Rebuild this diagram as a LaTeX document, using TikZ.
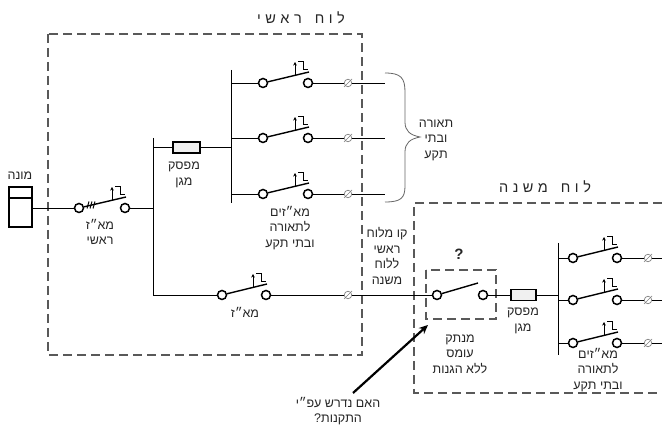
\documentclass[tikz,border=0pt]{standalone}
\usepackage{fontspec}
\setmainfont{Liberation Sans}
\TeXXeTstate=1
\usetikzlibrary{arrows.meta}
\newcommand\heb[1]{\beginR #1\endR}
\tikzset{
  wire/.style={line width=0.9pt, black},
  lever/.style={line width=1.4pt, black},
  act/.style={line width=1pt, black},
  ring/.style={circle, draw, line width=1.5pt, fill=white, minimum size=9pt, inner sep=0pt},
  tsym/.style={circle, draw=black!50, line width=0.7pt, fill=white, minimum size=7.5pt, inner sep=0pt},
  slash/.style={draw=black!50, line width=0.7pt},
  fuse/.style={rectangle, draw, line width=1.4pt, fill=black!6, inner sep=0pt},
  meter/.style={rectangle, draw, line width=1.4pt, minimum width=23pt, minimum height=40pt, inner sep=0pt},
  panel/.style={draw=black!65, line width=1.1pt, dash pattern=on 9pt off 5pt},
  lbl/.style={text=black!85, align=center, inner sep=0pt, font=\fontsize{12.5}{15.5}\selectfont},
  ttl/.style={text=black!85, inner sep=0pt, font=\fontsize{14.5}{16}\selectfont},
}
% circuit breaker symbol: name, x left, x right, y
\newcommand\cbsym[4]{%
  \node[ring] (#1a) at (#2,#4) {};
  \node[ring] (#1b) at (#3,#4) {};
  \draw[lever] (#1a) -- (#3+1,#4-11);
  \draw[act, -{Stealth[length=3.5pt,width=3.5pt]}] (#3-13,#4-8) -- (#3-13,#4-21);
  \draw[act] (#3-10,#4-21) -- (#3-5,#4-21) -- (#3-5,#4-13) -- (#3,#4-13);
}
\newcommand\termsym[3]{%
  \node[tsym] (#1) at (#2,#3) {};
  \draw[slash] ([shift={(-4,4)}]#1.center) -- ([shift={(4,-4)}]#1.center);
}
\begin{document}
\begin{tikzpicture}[x=1pt,y=-1pt]
\useasboundingbox (0,0) rectangle (662,427);
\fill[white] (0,0) rectangle (662,427);

% panels
\draw[panel] (48,34) rectangle (362,355);
\draw[panel] (662,203) -- (414,203) -- (414,393) -- (662,393);
\node[ttl] (t1) at (301,18) {\heb{ל\hspace{4.5pt}ו\hspace{4.5pt}ח\hspace{13pt}ר\hspace{4.5pt}א\hspace{4.5pt}ש\hspace{4.5pt}י}};
\node[ttl] (t2) at (545,187) {\heb{ל\hspace{4.5pt}ו\hspace{4.5pt}ח\hspace{13pt}מ\hspace{4.5pt}ש\hspace{4.5pt}נ\hspace{4.5pt}ה}};

% meter
\node[meter] (m) at (20.5,207) {};
\draw[line width=1.4pt] (m.west |- 0,198) -- (m.east |- 0,198);
\node[lbl] (mlab) at (20,176) {\heb{מונה}};

% main breaker
\cbsym{M}{79}{125}{208}
\foreach \xx in {88,91,94} \draw[act] (\xx-1,208.5) -- (\xx+1,201.5);
\draw[wire] (m.east |- Ma) -- (Ma);
\node[lbl] (lM) at (100,232) {\heb{מא״ז}\\\heb{ראשי}};

% busbar 1
\coordinate (b1t) at (153,138);
\coordinate (b1b) at (153,295);
\draw[wire] (b1t) -- (b1b);
\draw[wire] (Mb) -- (Mb -| b1t);

% protective switch 1
\node[fuse, minimum width=27pt, minimum height=11pt] (F1) at (186.5,147.5) {};
\node[lbl] (lF1) at (184,175) {\heb{מפסק}\\\heb{מגן}};
\coordinate (b2t) at (231,70);
\coordinate (b2b) at (231,203);
\draw[wire] (b2t) -- (b2b);
\draw[wire] (F1 -| b1t) -- (F1.west);
\draw[wire] (F1.east) -- (F1 -| b2t);

% branches main panel
\foreach \k/\yy in {1/83,2/138,3/194}{
  \cbsym{S\k}{263}{308}{\yy}
  \termsym{T\k}{348}{\yy}
  \coordinate (E\k) at (385,\yy);
  \draw[wire] (S\k a -| b2t) -- (S\k a);
  \draw[wire] (S\k b) -- (T\k);
  \draw[wire] (T\k) -- (E\k);
}
\node[lbl] (lS) at (290,228) {\heb{מא״זים}\\\heb{לתאורה}\\\heb{ובתי תקע}};

% brace
\draw[black!60, line width=0.8pt] (385,73) .. controls (401,73) and (405,78) .. (405,92) -- (405,122) .. controls (405,131) and (410,135) .. (420,137) .. controls (410,139) and (405,143) .. (405,152) -- (405,186) .. controls (405,198) and (401,202) .. (385,202);
\node[lbl] (lBr) at (436,140) {\heb{תאורה}\\\heb{ובתי}\\\heb{תקע}};

% bottom branch to sub panel
\cbsym{B}{222}{266}{295}
\termsym{TB}{348}{295}
\node[lbl] (lB) at (245,312) {\heb{מא״ז}};
\draw[wire] (b1b) -- (Ba);
\draw[wire] (Bb) -- (TB);
\node[lbl] (lL) at (387,256) {\heb{קו מלוח}\\\heb{ראשי}\\\heb{ללוח}\\\heb{משנה}};

% disconnector
\draw[panel, line width=1.3pt] (426,270) rectangle (496,319);
\node[ring] (Da) at (437,295) {};
\node[ring] (Db) at (483,295) {};
\draw[lever] (Da) -- (478,283);
\draw[wire] (TB) -- (Da);
\node[text=black!85, inner sep=0pt, font=\fontsize{15}{15}\selectfont\bfseries] (q) at (459,254) {?};
\node[lbl] (lD) at (460,354) {\heb{מנתק}\\\heb{עומס}\\\heb{ללא הגנות}};

% protective switch 2
\node[fuse, minimum width=25pt, minimum height=11pt] (F2) at (523.5,295) {};
\node[lbl] (lF2) at (523,321) {\heb{מפסק}\\\heb{מגן}};
\draw[wire] (Db) -- (F2.west);
\coordinate (b3t) at (558,243);
\coordinate (b3b) at (558,355);
\draw[wire] (b3t) -- (b3b);
\draw[wire] (F2.east) -- (F2 -| b3t);
\foreach \k/\yy in {1/258,2/300,3/343}{
  \cbsym{C\k}{573}{617}{\yy}
  \termsym{U\k}{648}{\yy}
  \coordinate (G\k) at (662,\yy);
  \draw[wire] (C\k a -| b3t) -- (C\k a);
  \draw[wire] (C\k b) -- (U\k);
  \draw[wire] (U\k) -- (G\k);
}
\node[lbl] (lC) at (598,370) {\heb{מא״זים}\\\heb{לתאורה}\\\heb{ובתי תקע}};

% question arrow
\node[lbl] (lQ) at (338,411) {\heb{האם נדרש עפ״י}\\\heb{התקנות?}};
\coordinate (aS) at (353,393);
\coordinate (aE) at (428,325);
\draw[line width=2.2pt, -{Stealth[length=9pt,width=8pt]}] (aS) -- (aE);
\end{tikzpicture}
\end{document}
